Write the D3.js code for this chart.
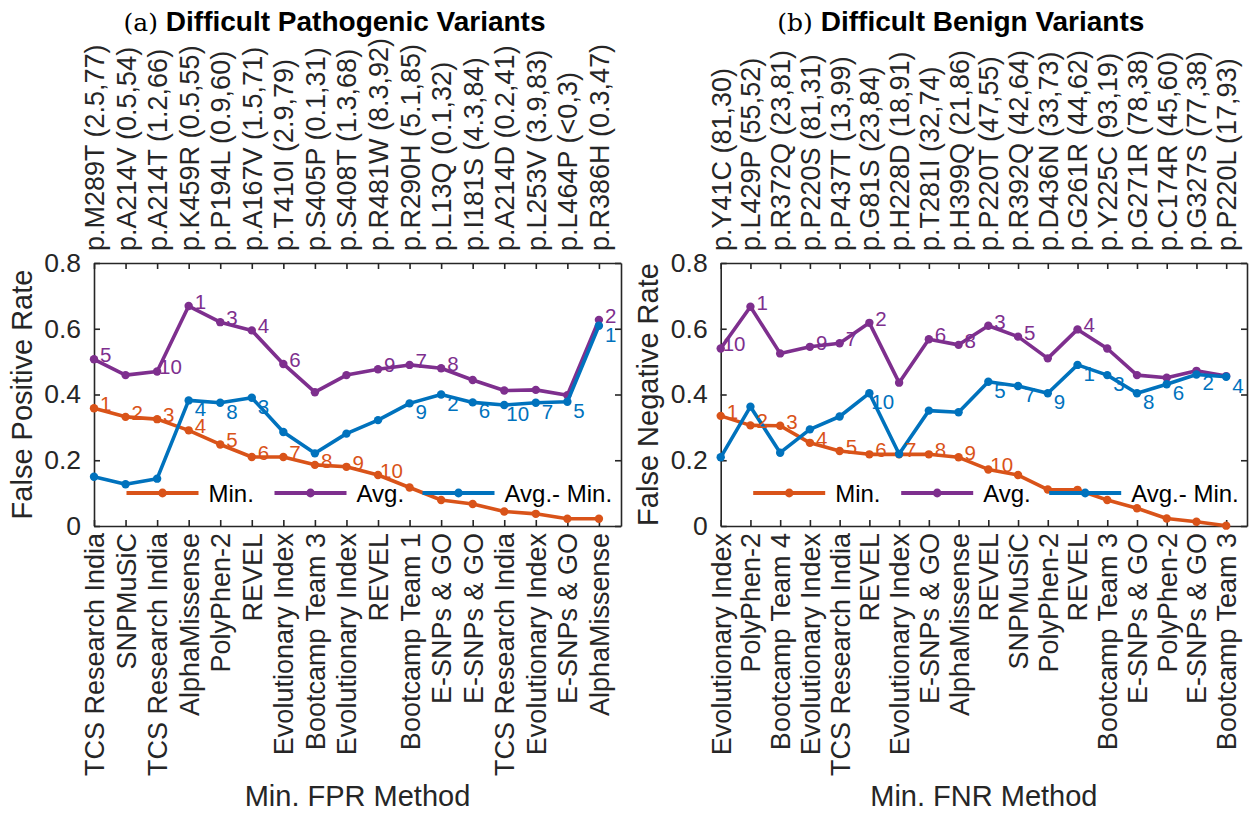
<!DOCTYPE html>
<html>
<head>
<meta charset="utf-8">
<script src="https://cdn.jsdelivr.net/npm/d3@7/dist/d3.min.js"></script>
<style>
body { margin: 0; background: #fff; }
svg text { font-family: "Liberation Sans", Arial, Helvetica, sans-serif; }
</style>
</head>
<body>
<svg id="chart" width="1251" height="814"></svg>
<script>

// ---- panel (a): difficult pathogenic variants ----
var variantsL = ["p.M289T (2.5,77)","p.A214V (0.5,54)","p.A214T (1.2,66)","p.K459R (0.5,55)","p.P194L (0.9,60)",
  "p.A167V (1.5,71)","p.T410I (2.9,79)","p.S405P (0.1,31)","p.S408T (1.3,68)","p.R481W (8.3,92)","p.R290H (5.1,85)",
  "p.L13Q (0.1,32)","p.I181S (4.3,84)","p.A214D (0.2,41)","p.L253V (3.9,83)","p.L464P (<0,3)","p.R386H (0.3,47)"];
var methodsL = ["TCS Research India","SNPMuSiC","TCS Research India","AlphaMissense","PolyPhen-2","REVEL",
  "Evolutionary Index","Bootcamp Team 3","Evolutionary Index","REVEL","Bootcamp Team 1","E-SNPs & GO",
  "E-SNPs & GO","TCS Research India","Evolutionary Index","E-SNPs & GO","AlphaMissense"];
var minL  = [0.358,0.332,0.325,0.291,0.248,0.210,0.210,0.186,0.180,0.155,0.117,0.079,0.067,0.044,0.037,0.022,0.022];
var avgL  = [0.507,0.459,0.470,0.669,0.620,0.595,0.493,0.407,0.459,0.477,0.490,0.480,0.444,0.412,0.414,0.398,0.627];
var diffL = [0.150,0.127,0.144,0.382,0.375,0.390,0.286,0.221,0.281,0.322,0.373,0.400,0.376,0.368,0.375,0.378,0.609];
var minRankL  = ["1","2","3","4","5","6","7","8","9","10","","","","","","",""];
var avgRankL  = ["5","","10","1","3","4","6","","","9","7","8","","","","","2"];
var diffRankL = ["","","","4","8","3","","","","","9","2","6","10","7","5","1"];

// ---- panel (b): difficult benign variants ----
var variantsR = ["p.Y41C (81,30)","p.L429P (55,52)","p.R372Q (23,81)","p.P220S (81,31)","p.P437T (13,99)",
  "p.G81S (23,84)","p.H228D (18,91)","p.T281I (32,74)","p.H399Q (21,86)","p.P220T (47,55)","p.R392Q (42,64)",
  "p.D436N (33,73)","p.G261R (44,62)","p.Y225C (93,19)","p.G271R (78,38)","p.C174R (45,60)","p.G327S (77,38)",
  "p.P220L (17,93)"];
var methodsR = ["Evolutionary Index","PolyPhen-2","Bootcamp Team 4","Evolutionary Index","TCS Research India",
  "REVEL","Evolutionary Index","E-SNPs & GO","AlphaMissense","REVEL","SNPMuSiC","PolyPhen-2","REVEL",
  "Bootcamp Team 3","E-SNPs & GO","PolyPhen-2","E-SNPs & GO","Bootcamp Team 3"];
var minR  = [0.335,0.306,0.305,0.253,0.228,0.218,0.218,0.218,0.209,0.172,0.155,0.111,0.110,0.079,0.054,0.023,0.013,0.001];
var avgR  = [0.540,0.667,0.525,0.545,0.556,0.618,0.436,0.568,0.551,0.609,0.576,0.510,0.598,0.540,0.459,0.451,0.472,0.456];
var diffR = [0.209,0.363,0.223,0.294,0.333,0.404,0.219,0.351,0.346,0.439,0.426,0.404,0.490,0.459,0.404,0.431,0.461,0.454];
var minRankR  = ["1","2","3","4","5","6","7","8","9","10","","","","","","","",""];
var avgRankR  = ["10","1","","9","7","2","","6","8","3","5","","4","","","","",""];
var diffRankR = ["","","","","","10","","","","5","7","9","1","3","8","6","2","4"];

var yTicks = [0, 0.2, 0.4, 0.6, 0.8];
var legendNames = ["Min.", "Avg.", "Avg.- Min."];
var colors = ["#D95319", "#7E2F8E", "#0072BD"];
var axisColor = "#262626";

var svg = d3.select("#chart");

function styleAxis(ax, size) {
  ax.attr("font-size", size)
    .attr("font-family", null)
    .style("color", axisColor);
  ax.selectAll("path, line").attr("stroke-width", 1.6);
}

function drawPanel(p) {
  var g = svg.append("g");
  var n = p.methods.length;
  var idx = d3.range(1, n + 1);

  var x = d3.scaleLinear().domain([1, n + 0.7]).range([p.left, p.right]);
  var y = d3.scaleLinear().domain([0, 0.8]).range([526, 263]);

  // bottom axis with method names
  var bx = g.append("g")
    .attr("transform", "translate(0," + y(0) + ")")
    .call(d3.axisBottom(x).tickValues(idx).tickSize(-6).tickSizeOuter(0)
      .tickFormat(function(i) { return p.methods[i - 1]; }));
  styleAxis(bx, 27);
  bx.selectAll("text")
    .attr("transform", "rotate(-90)")
    .attr("x", -7).attr("y", 0).attr("dy", "0.35em")
    .attr("text-anchor", "end");

  // top axis with variant names
  var tx = g.append("g")
    .attr("transform", "translate(0," + y(0.8) + ")")
    .call(d3.axisTop(x).tickValues(idx).tickSize(-6).tickSizeOuter(0)
      .tickFormat(function(i) { return p.variants[i - 1]; }));
  styleAxis(tx, 27);
  tx.selectAll("text")
    .attr("transform", "rotate(-90)")
    .attr("x", 12).attr("y", 0).attr("dy", "0.35em")
    .attr("text-anchor", "start");

  // y axes
  var ly = g.append("g")
    .attr("transform", "translate(" + p.left + ",0)")
    .call(d3.axisLeft(y).tickValues(yTicks).tickSize(-6).tickSizeOuter(0).tickPadding(13)
      .tickFormat(function(d) { return d === 0 ? "0" : d.toFixed(1); }));
  styleAxis(ly, 26.5);

  var ry = g.append("g")
    .attr("transform", "translate(" + p.right + ",0)")
    .call(d3.axisRight(y).tickValues(yTicks).tickSize(-6).tickSizeOuter(0).tickFormat(""));
  styleAxis(ry, 26.5);

  // axis titles
  g.append("text")
    .attr("transform", "translate(" + p.yLabelX + "," + (y(0.4)) + ") rotate(-90)")
    .attr("text-anchor", "middle")
    .attr("font-size", 29)
    .attr("fill", axisColor)
    .text(p.yLabel);

  g.append("text")
    .attr("x", (p.left + p.right) / 2)
    .attr("y", 806)
    .attr("text-anchor", "middle")
    .attr("font-size", 29)
    .attr("fill", axisColor)
    .text(p.xLabel);

  // panel title
  var t = g.append("text")
    .attr("x", (p.left + p.right) / 2 - 23)
    .attr("y", 31)
    .attr("text-anchor", "middle")
    .attr("fill", "#000");
  t.append("tspan")
    .style("font-family", "'DejaVu Serif', 'Liberation Serif', serif")
    .attr("font-size", 25)
    .text(p.tag + " ");
  t.append("tspan")
    .attr("font-size", 28)
    .attr("font-weight", "bold")
    .text(p.title);

  // series: line + dots
  var line = d3.line()
    .x(function(d, i) { return x(i + 1); })
    .y(function(d) { return y(d); });

  p.series.forEach(function(s, k) {
    g.append("path")
      .attr("d", line(s))
      .attr("fill", "none")
      .attr("stroke", colors[k])
      .attr("stroke-width", 3.6)
      .attr("stroke-linejoin", "round");
    g.selectAll(".dot" + k)
      .data(s)
      .enter().append("circle")
      .attr("cx", function(d, i) { return x(i + 1); })
      .attr("cy", function(d) { return y(d); })
      .attr("r", 4.2)
      .attr("fill", colors[k]);
  });

  // rank labels
  p.ranks.forEach(function(r, k) {
    var s = p.series[k];
    var below = (k === 2);
    g.selectAll(".rank" + k)
      .data(r)
      .enter().append("text")
      .attr("x", function(d, i) { return x(i + 1) + (d.length > 1 ? 2 : 6); })
      .attr("y", function(d, i) { return y(s[i]) + (below ? 16 : 3); })
      .attr("font-size", 20.5)
      .attr("fill", colors[k])
      .text(function(d) { return d; });
  });

  // legend, no box
  var lg = g.append("g").attr("transform", "translate(" + (p.left + 32.5) + ",493)");
  legendNames.forEach(function(name, k) {
    var ox = k * 148;
    lg.append("line")
      .attr("x1", ox).attr("x2", ox + 72)
      .attr("y1", 0).attr("y2", 0)
      .attr("stroke", colors[k])
      .attr("stroke-width", 3.8);
    lg.append("circle")
      .attr("cx", ox + 36).attr("cy", 0).attr("r", 4.4)
      .attr("fill", colors[k]);
    lg.append("text")
      .attr("x", ox + 82).attr("y", 8.6)
      .attr("font-size", 24)
      .attr("fill", "#000")
      .text(name);
  });
}

drawPanel({
  left: 94, right: 621, yLabelX: 32,
  methods: methodsL, variants: variantsL,
  series: [minL, avgL, diffL], ranks: [minRankL, avgRankL, diffRankL],
  yLabel: "False Positive Rate", xLabel: "Min. FPR Method",
  tag: "(a)", title: "Difficult Pathogenic Variants"
});

drawPanel({
  left: 720.7, right: 1247, yLabelX: 658,
  methods: methodsR, variants: variantsR,
  series: [minR, avgR, diffR], ranks: [minRankR, avgRankR, diffRankR],
  yLabel: "False Negative Rate", xLabel: "Min. FNR Method",
  tag: "(b)", title: "Difficult Benign Variants"
});

</script>
</body>
</html>
